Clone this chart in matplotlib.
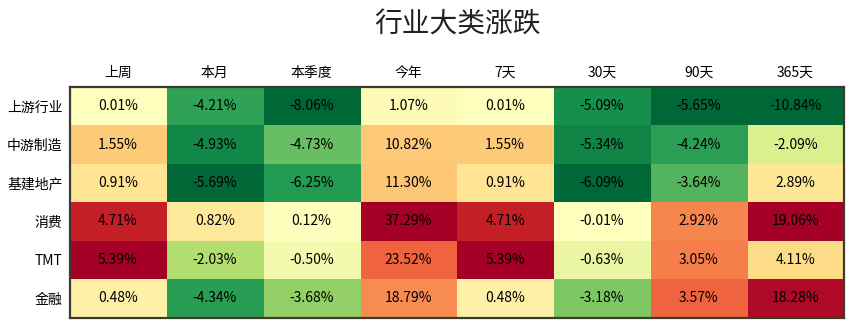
import numpy as np
import matplotlib
matplotlib.use("Agg")
from matplotlib import pyplot as plt
from matplotlib import colors as mcolors

plt.rcParams['font.family'] = ['Noto Sans CJK SC', 'DejaVu Sans']

# data (percent)
sectors = ['上游行业', '中游制造', '基建地产', '消费', 'TMT', '金融']
periods = ['上周', '本月', '本季度', '今年', '7天', '30天', '90天', '365天']
last_week = [0.01, 1.55, 0.91, 4.71, 5.39, 0.48]
this_month = [-4.21, -4.93, -5.69, 0.82, -2.03, -4.34]
this_quarter = [-8.06, -4.73, -6.25, 0.12, -0.50, -3.68]
this_year = [1.07, 10.82, 11.30, 37.29, 23.52, 18.79]
d7 = [0.01, 1.55, 0.91, 4.71, 5.39, 0.48]
d30 = [-5.09, -5.34, -6.09, -0.01, -0.63, -3.18]
d90 = [-5.65, -4.24, -3.64, 2.92, 3.05, 3.57]
d365 = [-10.84, -2.09, 2.89, 19.06, 4.11, 18.28]

data = np.array([last_week, this_month, this_quarter, this_year,
                 d7, d30, d90, d365]).T
nrow, ncol = data.shape

# colour each column on its own scale, centred at zero
cmap = plt.get_cmap('RdYlGn_r')
rgba = np.zeros((nrow, ncol, 4))
for j in range(ncol):
    col = data[:, j]
    vmax = np.abs(col).max()
    vmin = col.min() if col.min() < 0 else -vmax
    norm = mcolors.TwoSlopeNorm(vcenter=0, vmin=vmin, vmax=vmax)
    rgba[:, j] = cmap(norm(col))

fig = plt.figure(figsize=(8.55, 3.28), dpi=100)
ax = fig.add_axes([0.0813, 0.032, 0.9057, 0.703])
ax.imshow(rgba, aspect='auto', interpolation='nearest')

for i in range(nrow):
    for j in range(ncol):
        ax.text(j, i, "{:.2f}%".format(data[i, j]), ha='center',
                va='center', fontsize=10, color='black')

ax.set_xticks(np.arange(ncol))
ax.set_xticklabels(periods, fontsize=10)
ax.xaxis.tick_top()
ax.set_yticks(np.arange(nrow))
ax.set_yticklabels(sectors, fontsize=10)
ax.tick_params(length=0, pad=5)
for s in ax.spines.values():
    s.set_linewidth(1.6)
    s.set_color('#3b3b2e')

fig.text(0.535, 0.925, '行业大类涨跌', ha='center', va='center',
         fontsize=20, color='#222222')

fig.savefig('out.png', dpi=100)
